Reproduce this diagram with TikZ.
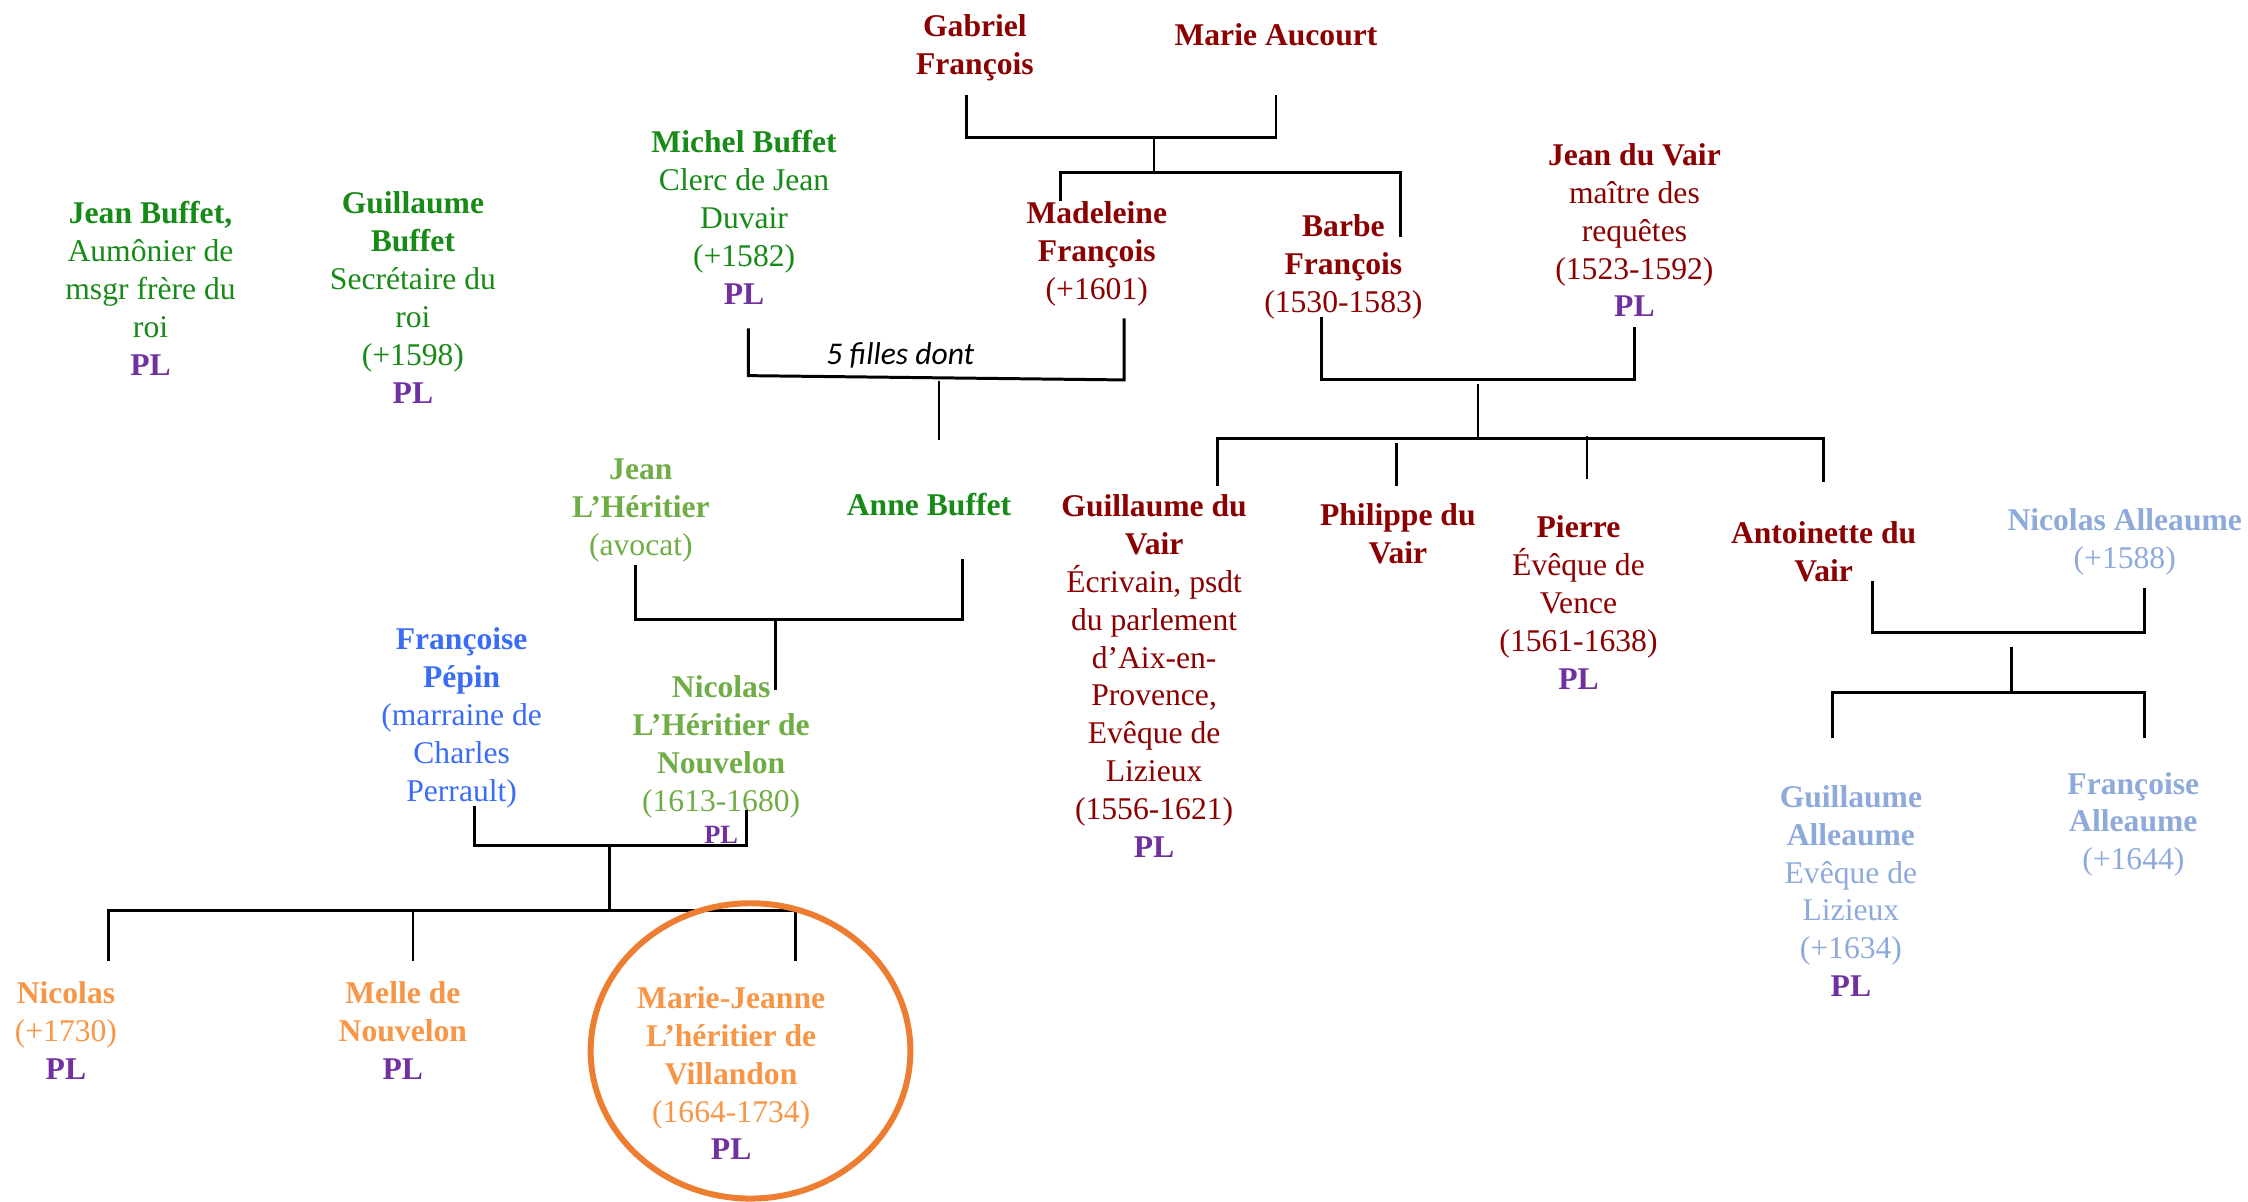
\documentclass[tikz,border=0pt]{standalone}
\usepackage{fontspec}
\setmainfont{Liberation Serif}
\newfontfamily\calib{Carlito}
\definecolor{dred}{HTML}{8B0000}
\definecolor{dgreen}{HTML}{178A17}
\definecolor{lgreen}{HTML}{70AD47}
\definecolor{pblue}{HTML}{3B6CF6}
\definecolor{lblue}{HTML}{8EAADB}
\definecolor{otext}{HTML}{F79646}
\definecolor{oring}{HTML}{ED7D31}
\definecolor{purp}{HTML}{7030A0}
\newcommand\plmark{\textcolor{purp}{\textbf{PL}}}
\begin{document}
\begin{tikzpicture}[x=0.014337cm,y=-0.014337cm,
  every node/.style={inner sep=0pt,outer sep=0pt,align=center,font=\fontsize{9}{10.8}\selectfont},
  ln/.style={line width=0.7pt,black},
  bar/.style={line width=0.85pt,black},
  ring/.style={line width=1.7pt,oring}]
\useasboundingbox (0,0) rectangle (1568,838);
% ---- people
\node[dred] (gabriel) at (680,33) {\textbf{Gabriel}\\\textbf{François}};
\node[dred] (marie) at (890,24) {\textbf{Marie Aucourt}};
\node[dred] (madeleine) at (765,177) {\textbf{Madeleine}\\\textbf{François}\\(+1601)};
\node[dred] (barbe) at (937,186) {\textbf{Barbe}\\\textbf{François}\\(1530-1583)};
\node[dred] (jeanvair) at (1140,160.5) {\textbf{Jean du Vair}\\maître des\\requêtes\\(1523-1592)\\\plmark};
\node[dgreen] (michel) at (519,151.5) {\textbf{Michel Buffet}\\Clerc de Jean\\Duvair\\(+1582)\\\plmark};
\node[dgreen] (jeanb) at (105,201) {\textbf{Jean Buffet,}\\Aumônier de\\msgr frère du\\roi\\\plmark};
\node[dgreen] (guilb) at (288,207.5) {\textbf{Guillaume}\\\textbf{Buffet}\\Secrétaire du\\roi\\(+1598)\\\plmark};
\node[dgreen] (anne) at (648,352) {\textbf{Anne Buffet}};
\node[lgreen] (jeanh) at (447,356) {\textbf{Jean}\\\textbf{L’Héritier}\\(avocat)};
\node[lgreen] (nicolash) at (503,521) {\textbf{Nicolas}\\\textbf{L’Héritier de}\\\textbf{Nouvelon}\\(1613-1680)};
\node[purp,font=\fontsize{7.5}{9}\selectfont\bfseries] (nhpl) at (503,582) {PL};
\node[pblue] (francoise) at (322,500.5) {\textbf{Françoise}\\\textbf{Pépin}\\(marraine de\\Charles\\Perrault)};
\node[otext] (nicolaso) at (46,719) {\textbf{Nicolas}\\(+1730)\\\plmark};
\node[otext] (melle) at (281,719) {\textbf{Melle de}\\\textbf{Nouvelon}\\\plmark};
\node[otext] (mj) at (510,748.5) {\textbf{Marie-Jeanne}\\\textbf{L’héritier de}\\\textbf{Villandon}\\(1664-1734)\\\plmark};
\node[dred] (guildv) at (805,471.5) {\textbf{Guillaume du}\\\textbf{Vair}\\Écrivain, psdt\\du parlement\\d’Aix-en-\\Provence,\\Evêque de\\Lizieux\\(1556-1621)\\\plmark};
\node[dred] (philippe) at (975,372) {\textbf{Philippe du}\\\textbf{Vair}};
\node[dred] (pierre) at (1101,420.5) {\textbf{Pierre}\\Évêque de\\Vence\\(1561-1638)\\\plmark};
\node[dred] (antoinette) at (1272,385) {\textbf{Antoinette du}\\\textbf{Vair}};
\node[lblue] (nicolasa) at (1482,378) {\textbf{Nicolas Alleaume}\\(+1588)};
\node[lblue] (guila) at (1291,621.5) {\textbf{Guillaume}\\\textbf{Alleaume}\\Evêque de\\Lizieux\\(+1634)\\\plmark};
\node[lblue] (francoisea) at (1488,575) {\textbf{Françoise}\\\textbf{Alleaume}\\(+1644)};
\node[font=\calib\itshape\fontsize{9}{10.8}\selectfont] (filles) at (628,248) {5 filles dont};
% ---- coordinates
\coordinate (gfA) at (674,66);
\coordinate (maA) at (890,66);
\coordinate (gmM) at (805,96);
\coordinate (gmD) at (805,120);
\coordinate (madA) at (740,140);
\coordinate (barA) at (977,165);
\coordinate (micA) at (522,229);
\coordinate (micB) at (522,262);
\coordinate (madB) at (784,222);
\coordinate (madC) at (784,265);
\coordinate (mmD) at (655,266);
\coordinate (mmE) at (655,307);
\coordinate (jhA) at (443,394);
\coordinate (anA) at (671,390);
\coordinate (jaM) at (541,432);
\coordinate (jaD) at (541,481);
\coordinate (fpA) at (331,562);
\coordinate (nhA) at (521,565);
\coordinate (fnM) at (425,590);
\coordinate (fnD) at (425,635);
\coordinate (k1) at (76,670);
\coordinate (k2top) at (288,635);
\coordinate (k2) at (288,670);
\coordinate (k3) at (555,670);
\coordinate (bbA) at (922,221);
\coordinate (jvA) at (1140,228);
\coordinate (bjM) at (1031,265);
\coordinate (bjD1) at (1031,268);
\coordinate (bjD2) at (1031,306);
\coordinate (c1) at (849,339);
\coordinate (c2a) at (974,309);
\coordinate (c2) at (974,339);
\coordinate (c3a) at (1107,304);
\coordinate (c3) at (1107,334);
\coordinate (c4) at (1272,336);
\coordinate (atA) at (1306,405);
\coordinate (naA) at (1496,410);
\coordinate (anM) at (1403,441);
\coordinate (anD1) at (1403,451);
\coordinate (anD2) at (1403,483);
\coordinate (g1) at (1278,515);
\coordinate (g2) at (1496,515);
% ---- connectors
\draw[bar] (gfA) |- (gmM) -| (maA);
\draw[ln] (gmM) -- (gmD);
\draw[bar] (madA) |- (gmD) -| (barA);
\draw[bar] (micA) -- (micB) -- (madC) -- (madB);
\draw[ln] (mmD) -- (mmE);
\draw[bar] (jhA) |- (jaM) -| (anA);
\draw[ln] (jaM) -- (jaD);
\draw[bar] (fpA) |- (fnM) -| (nhA);
\draw[ln] (fnM) -- (fnD);
\draw[bar] (k1) |- (fnD) -| (k3);
\draw[ln] (k2top) -- (k2);
\draw[bar] (bbA) |- (bjM) -| (jvA);
\draw[ln] (bjD1) -- (bjD2);
\draw[bar] (c1) |- (bjD2) -| (c4);
\draw[ln] (c2a) -- (c2);
\draw[ln] (c3a) -- (c3);
\draw[bar] (atA) |- (anM) -| (naA);
\draw[ln] (anD1) -- (anD2);
\draw[bar] (g1) |- (anD2) -| (g2);
% ---- highlight ring
\draw[ring] (523.5,733) ellipse [x radius=111.5, y radius=103];
\end{tikzpicture}
\end{document}
